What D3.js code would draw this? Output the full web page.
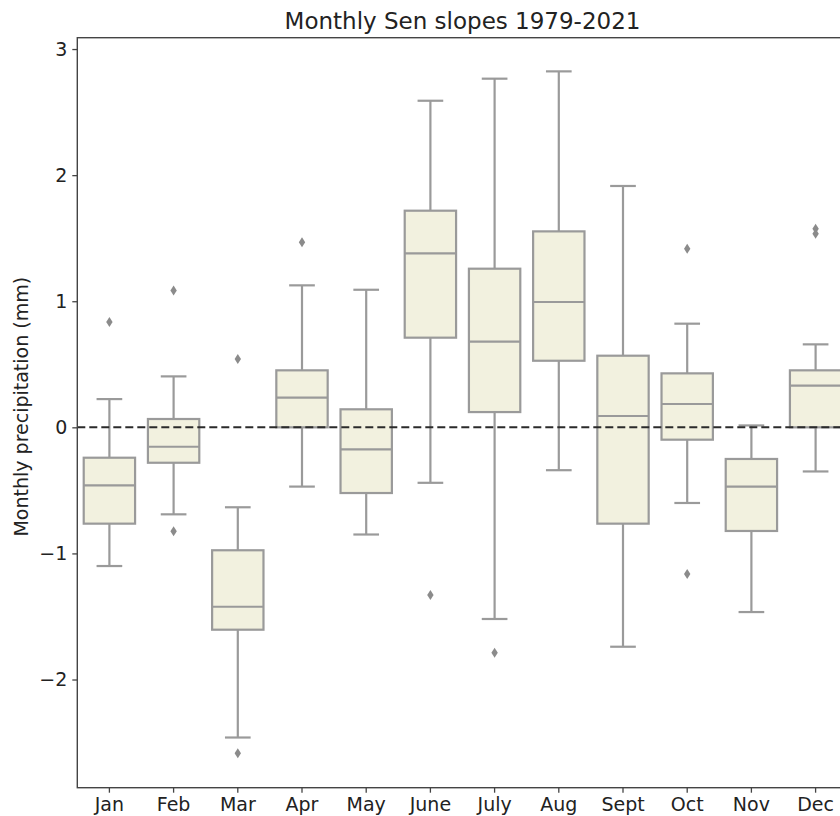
<!DOCTYPE html>
<html>
<head>
<meta charset="utf-8">
<script src="https://cdn.jsdelivr.net/npm/d3@7"></script>
<style>
  html, body { margin: 0; padding: 0; background: #fff; }
  svg { display: block; font-family: "DejaVu Sans", sans-serif; }
</style>
</head>
<body>
<svg id="chart" width="840" height="816"></svg>
<script>
// Monthly Sen slope distributions (mm), one box per month
const months       = ["Jan", "Feb", "Mar", "Apr", "May", "June", "July", "Aug", "Sept", "Oct", "Nov", "Dec"];
const whiskerLow   = [-1.10, -0.69, -2.46, -0.47, -0.85, -0.44, -1.52, -0.34, -1.74, -0.60, -1.465, -0.35];
const q1           = [-0.764, -0.281, -1.605, 0.0, -0.521, 0.711, 0.121, 0.528, -0.764, -0.098, -0.822, 0.0];
const median       = [-0.46, -0.154, -1.423, 0.235, -0.175, 1.38, 0.679, 0.994, 0.09, 0.185, -0.471, 0.33];
const q3           = [-0.241, 0.066, -0.975, 0.452, 0.143, 1.718, 1.258, 1.554, 0.568, 0.428, -0.251, 0.452];
const whiskerHigh  = [0.224, 0.404, -0.634, 1.126, 1.091, 2.59, 2.765, 2.823, 1.914, 0.822, 0.015, 0.658];
const outliers     = [[0.835], [1.086, -0.825], [0.542, -2.585], [1.467], [], [-1.33], [-1.787], [], [], [1.416, -1.163], [], [1.575, 1.535]];
const yTicks       = [-2, -1, 0, 1, 2, 3];

const svg = d3.select("#chart");
const plot = { left: 77.3, right: 847.7, top: 37.7, bottom: 787.7 };

const x = d3.scaleBand().domain(months).range([plot.left, plot.right]).padding(0);
const y = d3.scaleLinear().domain([-2.858, 3.09]).range([plot.bottom, plot.top]);

const boxColor = "#f2f1df";
const lineColor = "#9a9a9a";
const lw = 2.2;
const boxW = x.bandwidth() * 0.8;
const capW = boxW / 2;

const rows = months.map((m, i) => ({
  m, lo: whiskerLow[i], q1: q1[i], med: median[i], q3: q3[i], hi: whiskerHigh[i], out: outliers[i]
}));

const g = svg.append("g");

const box = g.selectAll("g.box").data(rows).join("g").attr("class", "box")
  .attr("transform", d => `translate(${x(d.m) + x.bandwidth() / 2},0)`);

// whiskers
box.append("line").attr("x1", 0).attr("x2", 0)
  .attr("y1", d => y(d.hi)).attr("y2", d => y(d.q3))
  .attr("stroke", lineColor).attr("stroke-width", lw);
box.append("line").attr("x1", 0).attr("x2", 0)
  .attr("y1", d => y(d.q1)).attr("y2", d => y(d.lo))
  .attr("stroke", lineColor).attr("stroke-width", lw);
// caps
box.append("line").attr("x1", -capW / 2).attr("x2", capW / 2)
  .attr("y1", d => y(d.hi)).attr("y2", d => y(d.hi))
  .attr("stroke", lineColor).attr("stroke-width", lw);
box.append("line").attr("x1", -capW / 2).attr("x2", capW / 2)
  .attr("y1", d => y(d.lo)).attr("y2", d => y(d.lo))
  .attr("stroke", lineColor).attr("stroke-width", lw);
// boxes
box.append("rect")
  .attr("x", -boxW / 2).attr("width", boxW)
  .attr("y", d => y(d.q3)).attr("height", d => y(d.q1) - y(d.q3))
  .attr("fill", boxColor).attr("stroke", lineColor).attr("stroke-width", lw);
// medians
box.append("line").attr("x1", -boxW / 2).attr("x2", boxW / 2)
  .attr("y1", d => y(d.med)).attr("y2", d => y(d.med))
  .attr("stroke", lineColor).attr("stroke-width", lw);
// outliers as thin diamonds
box.selectAll("path.flier").data(d => d.out).join("path").attr("class", "flier")
  .attr("d", v => {
    const cy = y(v), h = 5, w = 3.2;
    return `M0,${cy - h}L${w},${cy}L0,${cy + h}L${-w},${cy}Z`;
  })
  .attr("fill", "#8b8b8b");

// zero reference line
g.append("line")
  .attr("x1", plot.left).attr("x2", plot.right)
  .attr("y1", y(0)).attr("y2", y(0))
  .attr("stroke", "#2b2b2b").attr("stroke-width", 2)
  .attr("stroke-dasharray", "8,4");

// axes
const axisColor = "#444";
const yAxis = svg.append("g").attr("transform", `translate(${plot.left},0)`)
  .call(d3.axisLeft(y).tickValues(yTicks).tickFormat(d3.format("d"))
    .tickSize(5).tickPadding(5).tickSizeOuter(0));
const xAxis = svg.append("g").attr("transform", `translate(0,${plot.bottom})`)
  .call(d3.axisBottom(x).tickSize(5).tickPadding(5).tickSizeOuter(0));
[yAxis, xAxis].forEach(a => {
  a.select(".domain").remove();
  a.selectAll(".tick line").attr("stroke", axisColor).attr("stroke-width", 1.3);
  a.selectAll(".tick text").attr("fill", "#222").style("font-size", "19px")
    .style("font-family", "'DejaVu Sans', sans-serif");
});

// spines
svg.append("rect")
  .attr("x", plot.left).attr("y", plot.top)
  .attr("width", plot.right - plot.left).attr("height", plot.bottom - plot.top)
  .attr("fill", "none").attr("stroke", axisColor).attr("stroke-width", 1.4);

// title and axis label
svg.append("text")
  .attr("x", (plot.left + plot.right) / 2).attr("y", 29)
  .attr("text-anchor", "middle").attr("fill", "#222")
  .style("font-size", "23px")
  .text("Monthly Sen slopes 1979-2021");

svg.append("text")
  .attr("transform", `translate(28,${(plot.top + plot.bottom) / 2 - 6}) rotate(-90)`)
  .attr("text-anchor", "middle").attr("fill", "#222")
  .style("font-size", "19px")
  .text("Monthly precipitation (mm)");
</script>
</body>
</html>
